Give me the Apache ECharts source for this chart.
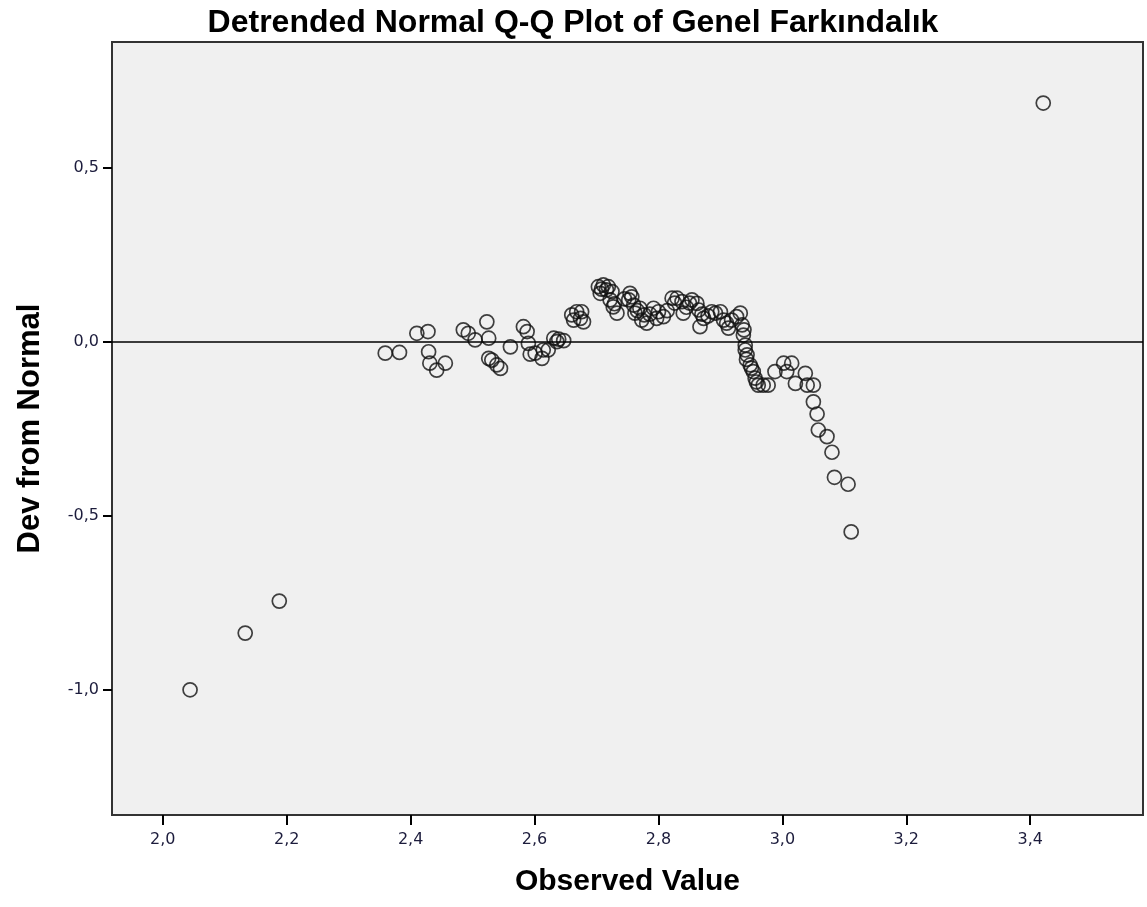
<!DOCTYPE html>
<html>
<head>
<meta charset="utf-8">
<script src="https://cdn.jsdelivr.net/npm/echarts@6/dist/echarts.min.js"></script>
<style>
  html, body { margin: 0; padding: 0; background: #fff; }
  #chart { width: 1147px; height: 907px; }
</style>
</head>
<body>
<div id="chart"></div>
<script>
const obsX = [
  2.044, 2.133, 2.188,
  2.359, 2.382, 2.410, 2.428, 2.429, 2.431, 2.442, 2.456, 2.485, 2.493,
  2.504, 2.523, 2.526, 2.526, 2.531, 2.539, 2.545, 2.561, 2.582, 2.588,
  2.590, 2.593, 2.601, 2.612, 2.614, 2.622, 2.631, 2.636, 2.639, 2.647,
  2.660, 2.668, 2.676, 2.663, 2.679, 2.674,
  2.703, 2.711, 2.719, 2.725, 2.706, 2.722, 2.727, 2.733, 2.708, 2.716,
  2.729, 2.745, 2.754, 2.752, 2.757, 2.760, 2.770, 2.762, 2.766, 2.773,
  2.777, 2.781, 2.786, 2.792, 2.800, 2.797, 2.808, 2.814, 2.822, 2.826,
  2.830, 2.838, 2.840, 2.845, 2.850, 2.854, 2.862, 2.865, 2.870, 2.873,
  2.867, 2.880, 2.886, 2.892, 2.900, 2.905, 2.910, 2.913, 2.918, 2.926,
  2.932, 2.935, 2.937, 2.938, 2.940, 2.940, 2.942, 2.943, 2.948, 2.950,
  2.953, 2.956, 2.958, 2.961, 2.969, 2.977,
  2.988, 3.002, 3.015, 3.007, 3.021, 3.037, 3.040, 3.050, 3.050, 3.056,
  3.058, 3.072, 3.080, 3.084, 3.106, 3.111,
  3.421
];
const devY = [
  -1.000, -0.837, -0.745,
  -0.032, -0.030, 0.025, 0.030, -0.028, -0.061, -0.081, -0.061, 0.035, 0.025,
  0.006, 0.058, 0.011, -0.047, -0.052, -0.066, -0.076, -0.014, 0.044, 0.030,
  -0.004, -0.035, -0.032, -0.047, -0.023, -0.023, 0.011, 0.001, 0.008, 0.004,
  0.078, 0.087, 0.087, 0.063, 0.058, 0.068,
  0.159, 0.164, 0.159, 0.145, 0.140, 0.121, 0.101, 0.083, 0.152, 0.150,
  0.110, 0.124, 0.140, 0.121, 0.130, 0.106, 0.097, 0.083, 0.090, 0.063,
  0.078, 0.054, 0.080, 0.097, 0.087, 0.068, 0.073, 0.090, 0.126, 0.112,
  0.126, 0.116, 0.083, 0.100, 0.112, 0.121, 0.111, 0.092, 0.080, 0.068,
  0.044, 0.075, 0.087, 0.083, 0.087, 0.063, 0.054, 0.040, 0.063, 0.073,
  0.083, 0.049, 0.020, 0.035, -0.009, -0.023, -0.050, -0.037, -0.066, -0.075,
  -0.085, -0.104, -0.115, -0.124, -0.124, -0.124,
  -0.085, -0.061, -0.061, -0.085, -0.119, -0.090, -0.124, -0.124, -0.172, -0.207,
  -0.253, -0.272, -0.317, -0.389, -0.409, -0.546,
  0.687
];
const xTicks = [2.0, 2.2, 2.4, 2.6, 2.8, 3.0, 3.2, 3.4];
const yTicks = [-1.0, -0.5, 0.0, 0.5];

const chart = echarts.init(document.getElementById("chart"));
const comma = (v) => Number(v).toFixed(1).replace(".", ",");
const tickStyle = { color: "#000", width: 2 };

const option = {
  animation: false,
  backgroundColor: "#fff",
  title: {
    text: "Detrended Normal Q-Q Plot of Genel Farkındalık",
    left: 568,
    textAlign: "center",
    top: 2,
    textStyle: {
      fontFamily: "Liberation Sans",
      fontWeight: "bold",
      fontSize: 32,
      color: "#000",
    },
  },
  grid: {
    left: 112,
    right: 4,
    top: 42,
    bottom: 92,
    show: true,
    backgroundColor: "#f0f0f0",
    borderColor: "#333",
    borderWidth: 2,
  },
  xAxis: {
    type: "value",
    min: 1.918,
    max: 3.582,
    name: "Observed Value",
    nameLocation: "middle",
    nameGap: 52,
    nameTextStyle: {
      fontFamily: "Liberation Sans",
      fontWeight: "bold",
      fontSize: 30,
      color: "#000",
    },
    axisLine: { show: true, onZero: false, lineStyle: { color: "#333", width: 2 } },
    splitLine: { show: false },
    axisTick: {
      show: true,
      length: 10,
      customValues: xTicks,
      lineStyle: tickStyle,
    },
    axisLabel: {
      customValues: xTicks,
      formatter: comma,
      margin: 17,
      fontFamily: "DejaVu Sans",
      fontSize: 16,
      color: "#1c1c3c",
    },
  },
  yAxis: {
    type: "value",
    min: -1.36,
    max: 0.8626,
    name: "Dev from Normal",
    nameLocation: "middle",
    nameGap: 66,
    nameTextStyle: {
      fontFamily: "Liberation Sans",
      fontWeight: "bold",
      fontSize: 31,
      color: "#000",
    },
    axisLine: { show: true, onZero: false, lineStyle: { color: "#333", width: 2 } },
    splitLine: { show: false },
    axisTick: {
      show: true,
      length: 9,
      customValues: yTicks,
      lineStyle: tickStyle,
    },
    axisLabel: {
      customValues: yTicks,
      formatter: comma,
      margin: 13,
      fontFamily: "DejaVu Sans",
      fontSize: 16,
      color: "#1c1c3c",
    },
  },
  series: [
    {
      type: "scatter",
      symbol: "circle",
      symbolSize: 14,
      data: obsX.map((x, i) => [x, devY[i]]),
      itemStyle: {
        color: "rgba(0,0,0,0)",
        borderColor: "#111",
        borderWidth: 1.7,
      },
      markLine: {
        silent: true,
        symbol: "none",
        label: { show: false },
        lineStyle: { color: "#000", width: 1.5, type: "solid" },
        data: [{ yAxis: 0 }],
      },
    },
  ],
};

chart.setOption(option);
</script>
</body>
</html>
